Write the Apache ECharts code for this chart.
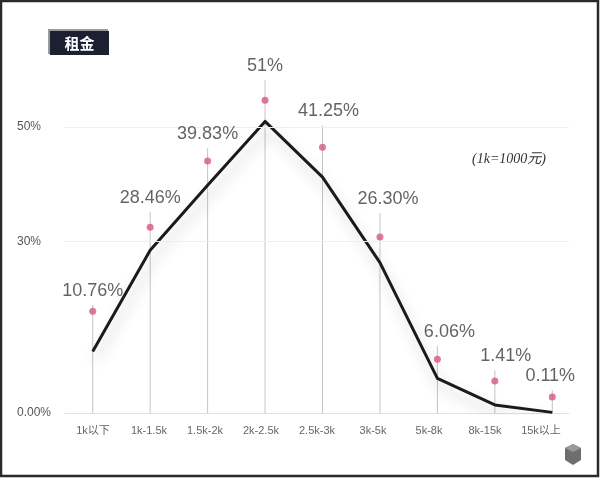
<!DOCTYPE html>
<html>
<head>
<meta charset="utf-8">
<script src="https://cdn.jsdelivr.net/npm/echarts@6/dist/echarts.min.js"></script>
<style>
html,body{margin:0;padding:0;background:#fff;}
#chart{width:600px;height:478px;}
</style>
</head>
<body>
<div id="chart"></div>
<script>
// Rent brackets
const categories = ['1k以下', '1k-1.5k', '1.5k-2k', '2k-2.5k', '2.5k-3k', '3k-5k', '5k-8k', '8k-15k', '15k以上'];
// Share of listings (%) drawn by the black line
const shares = [10.76, 28.46, 39.83, 51, 41.25, 26.30, 6.06, 1.41, 0.11];
// Value labels as printed
const shareLabels = ['10.76%', '28.46%', '39.83%', '51%', '41.25%', '26.30%', '6.06%', '1.41%', '0.11%'];
// Decorative pink dots (in axis units)
const dotValues = [17.8, 32.5, 44.1, 54.7, 46.5, 30.8, 9.4, 5.6, 2.8];
// Tops of thin vertical guide lines (in axis units)
const stemTops = [18.9, 35.1, 46.3, 58.2, 50.3, 35.0, 11.7, 7.5, 4.0];
// Y tick labels shown
const yTicks = {0: '0.00%', 30: '30%', 50: '50%'};
const gridValues = [30, 50];

// Styling: horizontal nudge of value labels on the falling side (pixels)
const labelNudge = {4: 6, 5: 8, 6: 12, 7: 11, 8: -2};

const chart = echarts.init(document.getElementById('chart'));
const yBase = {
  type: 'value', min: 0, max: 60, interval: 10,
  axisLine: {show: false}, axisTick: {show: false}, splitLine: {show: false}
};
const option = {
  animation: false,
  backgroundColor: '#fff',
  grid: [
    {left: 64, right: 19, top: 70, bottom: 65},
    {left: 65, right: 31, top: 70, bottom: 65}
  ],
  xAxis: [
    {
      type: 'category', gridIndex: 0, data: categories, boundaryGap: true,
      axisLine: {show: false}, axisTick: {show: false}, axisLabel: {show: false}
    },
    {
      type: 'category', gridIndex: 1, data: categories, boundaryGap: true,
      axisLine: {lineStyle: {color: '#e2e2e2', width: 1}},
      axisTick: {show: false},
      axisLabel: {color: '#666', fontSize: 11, margin: 12, fontFamily: 'Liberation Sans, Noto Sans CJK SC, sans-serif'}
    }
  ],
  yAxis: [
    Object.assign({gridIndex: 0, axisLabel: {show: false}}, yBase),
    Object.assign({gridIndex: 1, axisLabel: {
      align: 'left', margin: 48, color: '#555', fontSize: 12,
      fontFamily: 'Liberation Sans, sans-serif',
      formatter: v => (yTicks[v] !== undefined ? yTicks[v] : '')
    }}, yBase)
  ],
  series: [
    {
      type: 'line',
      xAxisIndex: 1, yAxisIndex: 1,
      data: categories.map(() => '-'),
      symbol: 'none',
      silent: true,
      z: 0,
      markLine: {
        silent: true,
        symbol: 'none',
        label: {show: false},
        lineStyle: {color: '#efefef', type: 'solid', width: 1},
        data: gridValues.map(v => ({yAxis: v}))
      }
    },
    {
      type: 'bar',
      data: stemTops,
      barWidth: 1,
      itemStyle: {color: '#c4c4c4'},
      z: 1
    },
    {
      type: 'line',
      data: shares,
      symbol: 'none',
      smooth: false,
      z: 3,
      lineStyle: {
        color: '#1b1b1b',
        width: 3,
        join: 'round',
        shadowColor: 'rgba(0,0,0,0.22)',
        shadowBlur: 14,
        shadowOffsetX: 3,
        shadowOffsetY: 9
      }
    },
    {
      type: 'scatter',
      data: dotValues,
      symbolSize: 7,
      z: 4,
      itemStyle: {color: '#d6587c'}
    },
    {
      type: 'scatter',
      data: stemTops.map((v, i) => ({
        value: v,
        label: {offset: [labelNudge[i] || 0, 0]}
      })),
      symbolSize: 0,
      silent: true,
      z: 5,
      label: {
        show: true,
        position: 'top',
        distance: 5,
        color: '#3c3c3c',
        fontSize: 18,
        fontFamily: 'Liberation Sans, sans-serif',
        formatter: p => shareLabels[p.dataIndex]
      }
    }
  ],
  graphic: [
    {type: 'rect', shape: {x: 1, y: 1, width: 597, height: 475}, style: {fill: 'none', stroke: '#2a2a2a', lineWidth: 2.5}, z: 100},
    {type: 'rect', shape: {x: 48, y: 29, width: 60, height: 25}, style: {fill: '#9a9a9a'}, z: 10},
    {type: 'rect', shape: {x: 50, y: 31, width: 59, height: 24}, style: {fill: '#1d2030'}, z: 11},
    {type: 'text', x: 79.5, y: 43, style: {text: '租金', fill: '#fff', font: 'bold 15px "Noto Sans CJK SC", sans-serif', textAlign: 'center', textVerticalAlign: 'middle'}, z: 12},
    {type: 'text', x: 509, y: 159, style: {text: '(1k=1000元)', fill: '#333', font: 'italic 14px "Liberation Serif", "Noto Sans CJK SC", serif', textAlign: 'center', textVerticalAlign: 'middle'}, z: 12},
    {type: 'polygon', shape: {points: [[565, 448], [573, 444], [581, 448], [581, 460], [573, 465], [565, 460]]}, style: {fill: '#6e6e6e'}, z: 12},
    {type: 'polygon', shape: {points: [[565, 448], [573, 444], [581, 448], [573, 452]]}, style: {fill: '#9a9a9a'}, z: 13}
  ]
};
chart.setOption(option);
</script>
</body>
</html>
